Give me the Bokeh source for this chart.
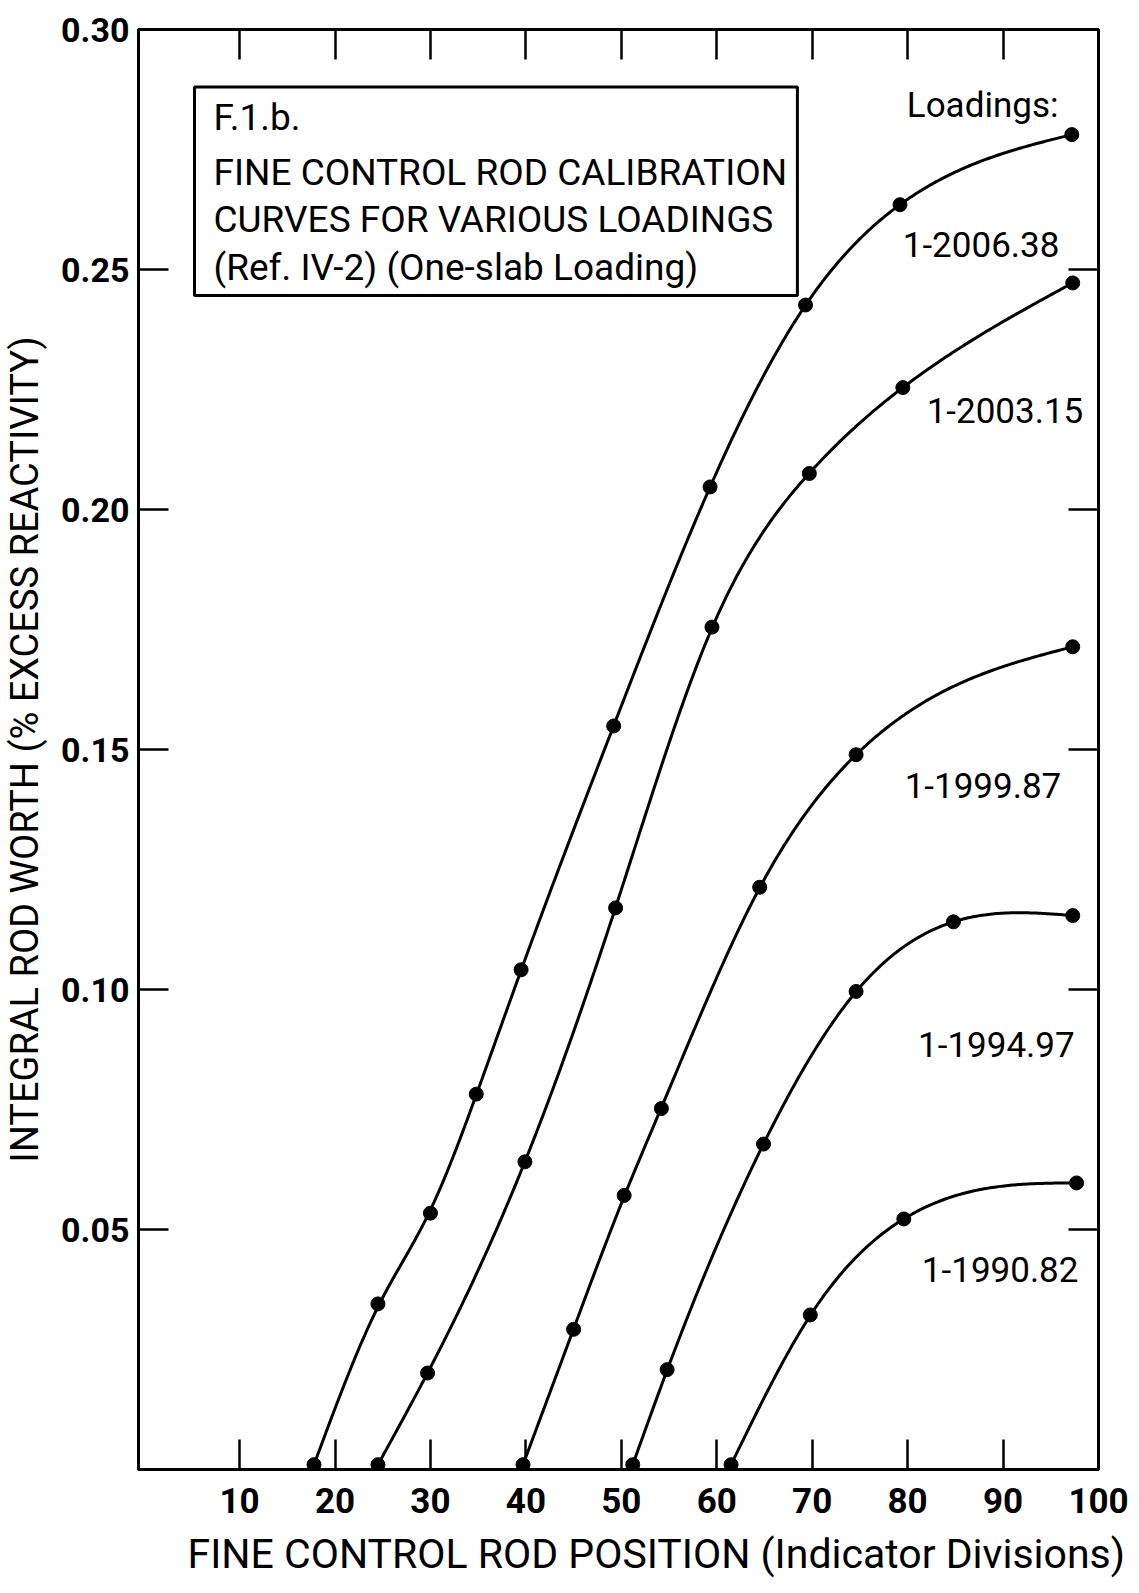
import numpy as np
from bokeh.plotting import figure
from bokeh.models import (LinearAxis, FixedTicker, Label, BoxAnnotation, Range1d,
                          PrintfTickFormatter, Title)
from bokeh.embed import file_html
from bokeh.resources import INLINE

# ---------------- data ----------------
loadings = ["1-2006.38", "1-2003.15", "1-1999.87", "1-1994.97", "1-1990.82"]

pos_2006 = [17.8, 24.5, 30.0, 34.8, 39.5, 49.2, 59.3, 69.3, 79.2, 97.2]
worth_2006 = [0.001, 0.0345, 0.0534, 0.0782, 0.1041, 0.1549, 0.2047, 0.2426, 0.2635, 0.2781]

pos_2003 = [24.5, 29.7, 39.9, 49.4, 59.5, 69.7, 79.5, 97.3]
worth_2003 = [0.001, 0.0201, 0.0641, 0.1170, 0.1755, 0.2075, 0.2254, 0.2472]

pos_1999 = [39.7, 45.0, 50.3, 54.2, 64.5, 74.6, 97.3]
worth_1999 = [0.001, 0.0292, 0.0571, 0.0752, 0.1213, 0.1489, 0.1714]

pos_1994 = [51.2, 54.8, 64.9, 74.6, 84.8, 97.3]
worth_1994 = [0.001, 0.0208, 0.0678, 0.0996, 0.1141, 0.1154]

pos_1990 = [61.5, 69.8, 79.6, 97.7]
worth_1990 = [0.001, 0.0322, 0.0522, 0.0597]

x_ticks = [10, 20, 30, 40, 50, 60, 70, 80, 90, 100]
y_ticks = [0.05, 0.10, 0.15, 0.20, 0.25, 0.30]

FONT = "Roboto"

X_RANGE = (-0.59, 100.0)
Y_RANGE = (0.0, 0.30)
FRAME_W, FRAME_H = 960, 1440


def smooth_curve(x, y, lam=300.0, step_px=2.0):
    """Lightly smoothed curve through the measured points (penalised least squares
    on a fine grid, computed in screen-proportional units so the smoothing is isotropic)."""
    x = np.asarray(x, float)
    y = np.asarray(y, float)
    sx = FRAME_W / (X_RANGE[1] - X_RANGE[0])
    sy = FRAME_H / (Y_RANGE[1] - Y_RANGE[0])
    n_g = int((x[-1] - x[0]) * sx / step_px) + 1
    g = np.linspace(x[0], x[-1], n_g)
    S = np.zeros((len(x), n_g))
    for i, xi in enumerate(x):
        j = min(int(np.searchsorted(g, xi, side="right") - 1), n_g - 2)
        j = max(j, 0)
        t = (xi - g[j]) / (g[j + 1] - g[j])
        S[i, j] = 1 - t
        S[i, j + 1] = t
    w = np.ones(len(x))
    w[0] = 20.0
    w[-1] = 5.0
    D = np.zeros((n_g - 2, n_g))
    for k in range(n_g - 2):
        D[k, k] = 1.0
        D[k, k + 1] = -2.0
        D[k, k + 2] = 1.0
    A = S.T @ (w[:, None] * S) + lam * D.T @ D
    b = S.T @ (w * y * sy)
    f = np.linalg.solve(A, b) / sy
    return g.tolist(), f.tolist()


p = figure(frame_width=FRAME_W, frame_height=FRAME_H,
           min_border_left=137, min_border_right=42, min_border_top=29, min_border_bottom=124,
           x_range=Range1d(*X_RANGE), y_range=Range1d(*Y_RANGE),
           output_backend="svg", toolbar_location=None,
           background_fill_color="white", border_fill_color="white")

p.grid.visible = False
p.outline_line_color = "black"
p.outline_line_width = 3

# bottom axis
xa = p.xaxis[0]
xa.ticker = FixedTicker(ticks=x_ticks)
xa.major_tick_in = 30
xa.major_tick_out = 0
xa.minor_tick_line_color = None
xa.major_tick_line_width = 2.5
xa.axis_line_width = 3
xa.major_label_standoff = 18
xa.major_label_text_font = FONT
xa.major_label_text_font_style = "bold"
xa.major_label_text_font_size = "35px"
xa.major_label_text_color = "black"

# left axis
ya = p.yaxis[0]
ya.ticker = FixedTicker(ticks=y_ticks)
ya.formatter = PrintfTickFormatter(format="%.2f")
ya.major_tick_in = 30
ya.major_tick_out = 0
ya.minor_tick_line_color = None
ya.major_tick_line_width = 2.5
ya.axis_line_width = 3
ya.major_label_standoff = 9
ya.major_label_text_font = FONT
ya.major_label_text_font_style = "bold"
ya.major_label_text_font_size = "34px"
ya.major_label_text_color = "black"
ya.axis_label = "INTEGRAL ROD WORTH (% EXCESS REACTIVITY)"
ya.axis_label_text_font = FONT
ya.axis_label_text_font_style = "normal"
ya.axis_label_text_font_size = "38px"
ya.axis_label_standoff = 11
ya.axis_label_text_color = "black"

# top & right axes (ticks only, no labels)
top = LinearAxis(ticker=FixedTicker(ticks=x_ticks), major_tick_in=30, major_tick_out=0,
                 minor_tick_line_color=None, axis_line_width=3, major_tick_line_width=2.5,
                 major_label_text_font_size="1px", major_label_text_color=None,
                 major_label_standoff=0)
p.add_layout(top, "above")
right = LinearAxis(ticker=FixedTicker(ticks=y_ticks), major_tick_in=30, major_tick_out=0,
                   minor_tick_line_color=None, axis_line_width=3, major_tick_line_width=2.5,
                   major_label_text_font_size="1px", major_label_text_color=None,
                   major_label_standoff=0)
p.add_layout(right, "right")

# x axis title (shifted right as in the original)
p.add_layout(Title(text="FINE CONTROL ROD POSITION (Indicator Divisions)", align="left",
                   offset=49, standoff=24, text_font=FONT, text_font_size="41px",
                   text_font_style="normal", text_color="black"), "below")

series = [(pos_2006, worth_2006), (pos_2003, worth_2003), (pos_1999, worth_1999),
          (pos_1994, worth_1994), (pos_1990, worth_1990)]
for xs_, ys_ in series:
    cx, cy = smooth_curve(xs_, ys_)
    p.line(cx, cy, line_color="black", line_width=3)
    p.scatter(xs_, ys_, size=14, marker="circle", fill_color="black", line_color="black")

# curve labels (right-aligned)
label_pos = [(95.9, 0.2553), (98.4, 0.2207), (96.1, 0.1426), (97.5, 0.0886), (97.9, 0.0417)]
for txt, (lx, ly) in zip(loadings, label_pos):
    p.add_layout(Label(x=lx, y=ly, text=txt, text_font=FONT, text_font_size="35px",
                       text_align="right", text_baseline="alphabetic", text_color="black"))
p.add_layout(Label(x=95.8, y=0.2842, text="Loadings:", text_font=FONT, text_font_size="35px",
                   text_align="right", text_baseline="alphabetic", text_color="black"))

# title box
p.add_layout(BoxAnnotation(left=5.28, right=68.45, top=0.2880, bottom=0.2446,
                           fill_color="white", fill_alpha=1.0, line_color="black",
                           line_alpha=1.0, line_width=3, level="overlay"))
box_lines = ["F.1.b.", "FINE CONTROL ROD CALIBRATION",
             "CURVES FOR VARIOUS LOADINGS", "(Ref. IV-2) (One-slab Loading)"]
box_y = [0.2817, 0.2703, 0.2605, 0.2505]
for txt, by in zip(box_lines, box_y):
    p.add_layout(Label(x=7.27, y=by, text=txt, text_font=FONT, text_font_size="37px",
                       text_align="left", text_baseline="alphabetic", text_color="black",
                       level="overlay"))

open("out.html", "w").write(file_html(p, INLINE))
